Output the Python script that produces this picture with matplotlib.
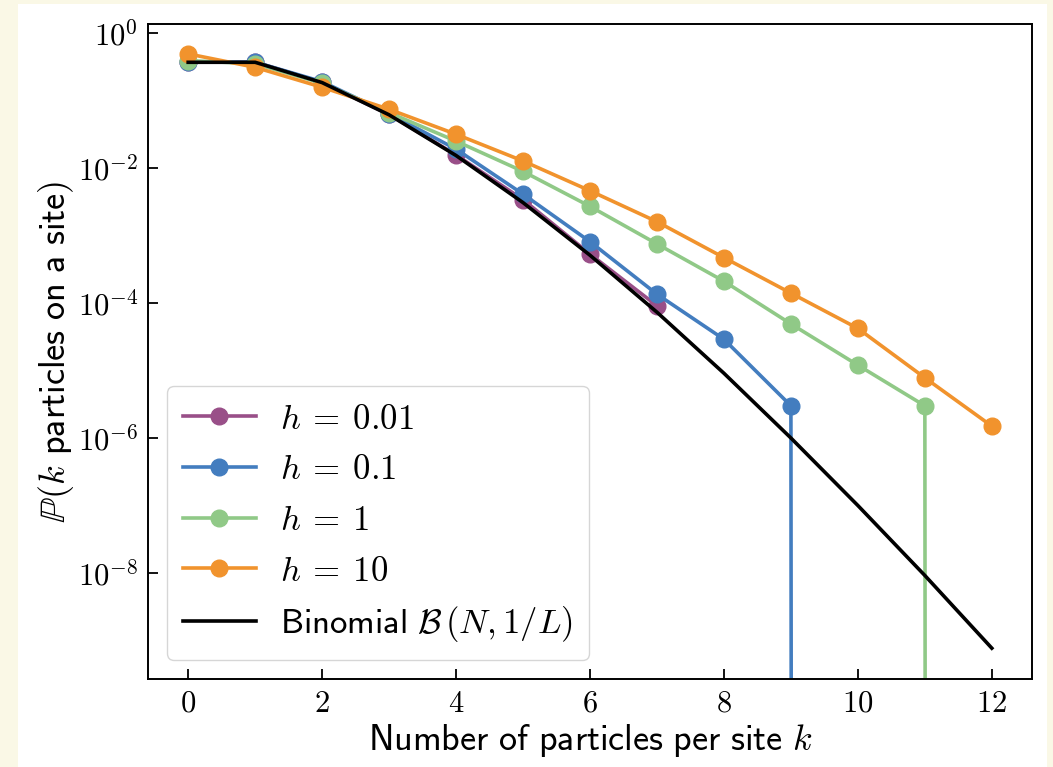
import numpy as np
import matplotlib
matplotlib.use("Agg")
import matplotlib.pyplot as plt
from matplotlib.patches import Rectangle
from matplotlib.ticker import FixedLocator, NullLocator, FuncFormatter

plt.rcParams['mathtext.fontset'] = 'cm'
plt.rcParams['font.family'] = ['DejaVu Sans']

k_vals = list(range(13))

# 0 means "no sample" (drops to the bottom on log axis)
p_h001 = [0.37, 0.37, 0.185, 0.062, 0.0156, 0.0034, 5.3e-4, 9.1e-5]
p_h01 = [0.37, 0.37, 0.19, 0.064, 0.019, 0.0041, 8.1e-4, 1.35e-4, 2.9e-5, 3.0e-6, 0.0]
p_h1 = [0.39, 0.35, 0.18, 0.066, 0.025, 0.0089, 0.0027, 7.5e-4, 2.1e-4, 4.9e-5, 1.2e-5, 3.0e-6, 0.0]
p_h10 = [0.49, 0.31, 0.157, 0.074, 0.0316, 0.0127, 0.0046, 0.0016, 4.7e-4, 1.4e-4, 4.2e-5, 7.8e-6, 1.5e-6]
p_binom = [0.368, 0.368, 0.184, 0.0613, 0.0153, 0.00307, 5.1e-4, 7.3e-5,
           9.1e-6, 1.0e-6, 1.0e-7, 9.2e-9, 7.7e-10]

labels = [r'$h\:=\:0.01$', r'$h\:=\:0.1$', r'$h\:=\:1$', r'$h\:=\:10$']
colors = ['#994F88', '#437DBF', '#90C987', '#F1932D']
series = [p_h001, p_h01, p_h1, p_h10]

fig = plt.figure(figsize=(10.53, 7.67), dpi=100)
fig.patch.set_facecolor('#FAF8E6')
fig.patches.append(Rectangle((18/1053, 0), (1047-18)/1053, 1-4/767,
                             transform=fig.transFigure, facecolor='white',
                             edgecolor='none', zorder=-10))
ax = fig.add_axes([148/1053, 1-679/767, (1032-148)/1053, (679-24)/767])

for ys, lab, c in zip(series, labels, colors):
    ax.plot(k_vals[:len(ys)], ys, '-o', color=c, lw=2.6, ms=12, label=lab)
ax.plot(k_vals, p_binom, '-', color='black', lw=2.6,
        label=r'$\mathsf{Binomial}\ \mathcal{B}\,(N, 1/L)$')

ax.set_yscale('log')
ax.set_ylim(10**-9.57, 10**0.133)
ax.set_xlim(-0.6, 12.6)
ax.yaxis.set_major_locator(FixedLocator([1, 1e-2, 1e-4, 1e-6, 1e-8]))
ax.yaxis.set_minor_locator(NullLocator())
ax.yaxis.set_major_formatter(FuncFormatter(lambda v, p: r'$10^{%d}$' % round(np.log10(v))))
ax.set_xticks([0, 2, 4, 6, 8, 10, 12])
ax.set_xticklabels([r'$%d$' % v for v in [0, 2, 4, 6, 8, 10, 12]])
ax.tick_params(direction='in', length=7, width=1.3, labelsize=22, pad=7)
for s in ax.spines.values():
    s.set_linewidth(1.4)

ax.set_xlabel(r'$\mathsf{Number\ of\ particles\ per\ site}\ k$', fontsize=26, labelpad=3)
ax.set_ylabel(r'$\mathbb{P}(k\ \mathsf{particles\ on\ a\ site})$', fontsize=26, labelpad=1)

leg = ax.legend(loc='lower left', fontsize=25, handlelength=2.1,
                handletextpad=0.7, borderaxespad=0.55, labelspacing=0.48,
                fancybox=True, borderpad=0.45)
leg.get_frame().set_edgecolor('#cccccc')

fig.savefig('out.png', dpi=100, facecolor=fig.get_facecolor())
